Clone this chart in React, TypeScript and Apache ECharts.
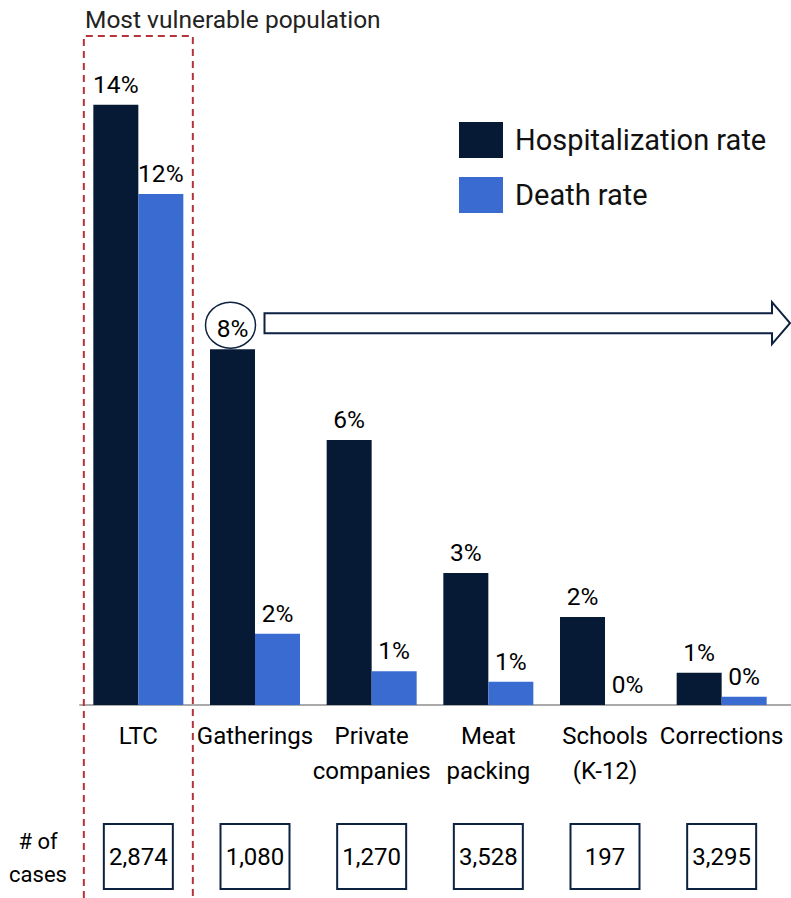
import React, { useEffect, useRef } from "react";
import * as echarts from "echarts";

const categories = ["LTC", "Gatherings", "Private\ncompanies", "Meat\npacking", "Schools\n(K-12)", "Corrections"];
const hospitalizationRate = [14.0, 8.3, 6.18, 3.08, 2.05, 0.75];
const deathRate = [11.92, 1.66, 0.79, 0.54, 0.0, 0.19];
const caseCounts = ["2,874", "1,080", "1,270", "3,528", "197", "3,295"];
const highlightTitle = "Most vulnerable population";
const casesLabel = "# of\ncases";
const seriesNames = ["Hospitalization rate", "Death rate"];

const FONT = "Roboto, 'Noto Sans', sans-serif";
const NAVY = "#061a36";
const BLUE = "#3a6bd1";
const RED = "#b5343c";
const BOX = "#0d2140";

export default function App() {
  const ref = useRef<HTMLDivElement>(null);

  useEffect(() => {
    document.body.style.margin = "0";
    const el = ref.current;
    if (!el) return;
    const chart = echarts.init(el, null, { renderer: "svg" });

    const labelCommon = {
      show: true,
      position: "top" as const,
      distance: 8,
      fontSize: 24.5,
      fontFamily: FONT,
      color: "#000",
      formatter: (p: any) => Math.round(p.value) + "%",
    };

    chart.setOption({
      animation: false,
      textStyle: { fontFamily: FONT },
      grid: { left: 80, right: 11, top: 19, bottom: 193 },
      legend: {
        orient: "vertical",
        left: 459,
        top: 122,
        padding: 0,
        itemWidth: 44,
        itemHeight: 36,
        itemGap: 19,
        icon: "rect",
        data: seriesNames,
        textStyle: { fontSize: 29, fontFamily: FONT, color: "#111", padding: [10, 0, 0, 7] },
      },
      xAxis: {
        type: "category",
        data: categories,
        axisTick: { show: false },
        axisLine: { lineStyle: { color: "#aaaaaa", width: 2 } },
        axisLabel: {
          fontSize: 24,
          fontFamily: FONT,
          color: "#000",
          lineHeight: 35,
          margin: 13,
          interval: 0,
        },
      },
      yAxis: {
        type: "value",
        min: 0,
        max: 16,
        show: false,
        splitLine: { show: false },
      },
      series: [
        {
          name: seriesNames[0],
          type: "bar",
          data: hospitalizationRate,
          barWidth: 45,
          barGap: "0%",
          itemStyle: { color: NAVY },
          label: labelCommon,
        },
        {
          name: seriesNames[1],
          type: "bar",
          data: deathRate,
          barWidth: 45,
          barGap: "0%",
          itemStyle: { color: BLUE },
          label: labelCommon,
        },
      ],
    });

    const cx = categories.map((_, i) => chart.convertToPixel({ xAxisIndex: 0 }, i) as number);
    const yPx = (v: number) => chart.convertToPixel({ yAxisIndex: 0 }, v) as number;
    const baseY = yPx(0);
    const half = 22.5;

    const l = cx[0] - 54.5;
    const r = cx[0] + 54.5;

    const circX = cx[1] - half - 2;
    const circY = yPx(hospitalizationRate[1]) - 24;
    const rx = 25;
    const ry = 23;
    const ay = circY - 2;
    const x0 = circX + rx + 9;

    const graphics: any[] = [
      {
        type: "polyline",
        shape: { points: [[l, 898], [l, 36], [r, 36], [r, 898]] },
        style: { stroke: RED, lineWidth: 2, lineDash: [7, 5], fill: null },
        z: 10,
      },
      {
        type: "text",
        x: 85,
        y: 19,
        style: {
          text: highlightTitle,
          fontSize: 24.5,
          fontFamily: FONT,
          fill: "#222",
          verticalAlign: "middle",
          align: "left",
        },
      },
      {
        type: "ellipse",
        shape: { cx: circX, cy: circY, rx, ry },
        style: { stroke: BOX, lineWidth: 1.5, fill: null },
        z: 10,
      },
      {
        type: "polygon",
        shape: {
          points: [
            [x0, ay - 10],
            [772, ay - 10],
            [772, ay - 21],
            [790, ay],
            [772, ay + 21],
            [772, ay + 10],
            [x0, ay + 10],
          ],
        },
        style: { stroke: BOX, lineWidth: 2, fill: "#fff" },
        z: 10,
      },
      {
        type: "line",
        shape: { x1: 780, y1: baseY, x2: 791, y2: baseY },
        style: { stroke: "#aaaaaa", lineWidth: 2 },
      },
      {
        type: "text",
        x: 38,
        y: 858,
        style: {
          text: casesLabel,
          fontSize: 22,
          fontFamily: FONT,
          fill: "#000",
          align: "center",
          verticalAlign: "middle",
          lineHeight: 33,
        },
      },
    ];

    caseCounts.forEach((c, i) => {
      graphics.push({
        type: "rect",
        shape: { x: cx[i] - 34.5, y: 824, width: 69, height: 65 },
        style: { stroke: BOX, lineWidth: 2, fill: "#fff" },
        z: 10,
      });
      graphics.push({
        type: "text",
        x: cx[i],
        y: 857,
        style: {
          text: c,
          fontSize: 24,
          fontFamily: FONT,
          fill: "#000",
          align: "center",
          verticalAlign: "middle",
        },
        z: 11,
      });
    });

    chart.setOption({ graphic: graphics });

    return () => {
      chart.dispose();
    };
  }, []);

  return <div ref={ref} style={{ width: 791, height: 898 }} />;
}
